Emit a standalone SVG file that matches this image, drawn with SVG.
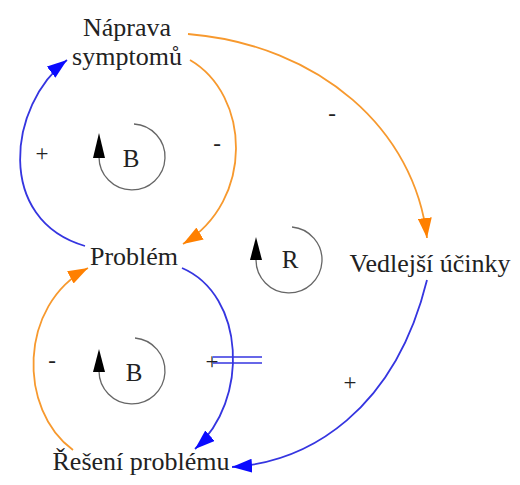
<svg xmlns="http://www.w3.org/2000/svg" width="520" height="485" viewBox="0 0 520 485">
<style>
.lbl{font-family:"Liberation Serif","Times New Roman",serif;font-size:26px;fill:#222;text-anchor:middle}
.loopl{font-family:"Liberation Serif","Times New Roman",serif;font-size:25px;fill:#222;text-anchor:middle}
.sign{font-family:"Liberation Serif","Times New Roman",serif;font-size:23px;fill:#222;text-anchor:middle}
.blue{fill:none;stroke:#3535e0;stroke-width:1.8}
.orange{fill:none;stroke:#f7992e;stroke-width:1.8}
.loop{fill:none;stroke:#666;stroke-width:1.3}
.tri{fill:#000}
</style>
<defs>
<marker id="ab" viewBox="0 0 20 14" markerWidth="20" markerHeight="14" refX="20" refY="7" orient="auto" markerUnits="userSpaceOnUse"><path d="M0,0 L20,7 L0,14 z" fill="#0a0aff"/></marker>
<marker id="ao" viewBox="0 0 20 14" markerWidth="20" markerHeight="14" refX="20" refY="7" orient="auto" markerUnits="userSpaceOnUse"><path d="M0,0 L20,7 L0,14 z" fill="#ff8000"/></marker>
</defs>
<g id="connectors">
<path class="orange" d="M188,34 C320,45 415,130 427,238" marker-end="url(#ao)"/>
<path class="orange" d="M190,60 C250,95 255,200 183,244" marker-end="url(#ao)"/>
<path class="blue" d="M85,246 C-5,220 8,105 67,60" marker-end="url(#ab)"/>
<path class="blue" d="M182,268 C245,295 250,400 195,449" marker-end="url(#ab)"/>
<path class="orange" d="M73,450 C18,410 18,305 88,268" marker-end="url(#ao)"/>
<path class="blue" d="M427,280 C395,410 310,462 232,467" marker-end="url(#ab)"/>
<line x1="213" y1="357" x2="262" y2="357" stroke="#3535e0" stroke-width="1.6"/>
<line x1="213" y1="363" x2="262" y2="363" stroke="#3535e0" stroke-width="1.6"/>
<text class="sign" x="42" y="161">+</text>
<text class="sign" x="217" y="151">-</text>
<text class="sign" x="332" y="121">-</text>
<text class="sign" x="52" y="368">-</text>
<text class="sign" x="212" y="369">+</text>
<text class="sign" x="350" y="390">+</text>
</g>
<g id="loop-b-top">
<path class="loop" d="M134,124 A33,33 0 1 1 99,157"/>
<path class="tri" d="M99,133 L105,158 L93,158 z"/>
<text class="loopl" x="131" y="167">B</text>
</g>
<g id="loop-b-bottom">
<path class="loop" d="M135,338 A33,33 0 1 1 99,371"/>
<path class="tri" d="M99,349 L105,372 L93,372 z"/>
<text class="loopl" x="134" y="381">B</text>
</g>
<g id="loop-r">
<path class="loop" d="M292,227 A33,33 0 1 1 256,260"/>
<path class="tri" d="M256,237 L262,260 L250,260 z"/>
<text class="loopl" x="290" y="268">R</text>
</g>
<g id="naprava"><text class="lbl" x="127" y="36">Náprava</text><text class="lbl" x="127" y="65">symptomů</text></g>
<g id="problem"><text class="lbl" x="134" y="265">Problém</text></g>
<g id="reseni"><text class="lbl" x="141" y="470">Řešení problému</text></g>
<g id="vedlejsi"><text class="lbl" x="430" y="272">Vedlejší účinky</text></g>
</svg>
